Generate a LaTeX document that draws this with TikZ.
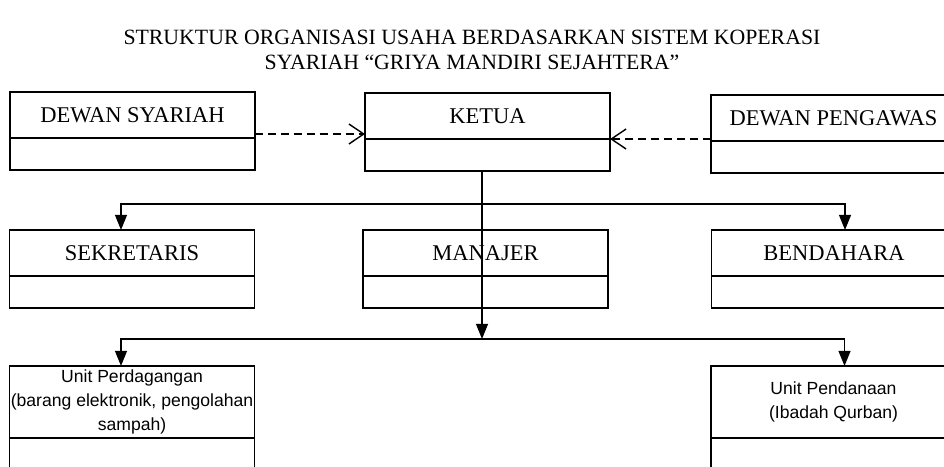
\documentclass[tikz,border=0pt]{standalone}
\usepackage{fontspec}
\setmainfont{Liberation Serif}
\newfontfamily\unitfont{Liberation Sans}
\usetikzlibrary{positioning,arrows.meta}

\begin{document}
\begin{tikzpicture}[x=0.025cm, y=-0.025cm,
    kotak/.style={draw, line width=1pt, minimum width=6.125cm, minimum height=1.15cm,
      inner sep=0pt, outer sep=0pt, font=\fontsize{16}{19}\selectfont},
    kotakbawah/.style={draw, line width=1pt, minimum width=6.125cm, minimum height=0.8cm,
      inner sep=0pt, outer sep=0pt},
    kotakunit/.style={kotak, minimum height=1.8cm, align=center,
      font=\unitfont\fontsize{12.5}{17}\selectfont},
    panah/.style={line width=1pt, -{Triangle[length=0.38cm, width=0.3cm]}},
    putus/.style={line width=1pt, dash pattern=on 5.7pt off 3.5pt,
      -{Straight Barb[length=0.37cm, width=0.5cm]}}]
    \def \geser {0.275cm} % arrows stand a little off the box centres
    \useasboundingbox (0,0) rectangle (944,466);
    \clip (0,0) rectangle (944,466);

    % title
    \node[font=\fontsize{15.5}{18}\selectfont] (judul1) at (472,37)
      {STRUKTUR ORGANISASI USAHA BERDASARKAN SISTEM KOPERASI};
    \node[font=\fontsize{15.5}{18}\selectfont] (judul2) at (472,62)
      {SYARIAH “GRIYA MANDIRI SEJAHTERA”};

    % top row
    \node[kotak] (syariah) at (132.5,115) {DEWAN SYARIAH};
    \node[kotakbawah, below=0pt of syariah] (syariahb) {};
    \node[kotak] (ketua) at (487.5,116) {KETUA};
    \node[kotakbawah, below=0pt of ketua] (ketuab) {};
    \node[kotak] (pengawas) at (833.5,118) {DEWAN PENGAWAS};
    \node[kotakbawah, below=0pt of pengawas] (pengawasb) {};

    % second row
    \node[kotak] (sekretaris) at (132,253) {SEKRETARIS};
    \node[kotakbawah, below=0pt of sekretaris] (sekretarisb) {};
    \node[kotak] (manajer) at (485.5,253) {MANAJER};
    \node[kotakbawah, below=0pt of manajer] (manajerb) {};
    \node[kotak] (bendahara) at (834,253) {BENDAHARA};
    \node[kotakbawah, below=0pt of bendahara] (bendaharab) {};

    % units
    \node[kotakunit] (dagang) at (132,402)
      {Unit Perdagangan\\(barang elektronik, pengolahan\\sampah)};
    \node[kotakbawah, minimum height=1.2cm, below=0pt of dagang] (dagangb) {};
    \node[kotakunit] (dana) at (833.5,402) {Unit Pendanaan\\(Ibadah Qurban)};
    \node[kotakbawah, minimum height=1.2cm, below=0pt of dana] (danab) {};

    \coordinate (cabang1) at (482,204);
    \coordinate (cabang2) at (482,339);

    \draw[putus] ([yshift=1mm]syariah.south east) -- ([yshift=1mm]syariah.south east -| ketua.west);
    \draw[putus] ([yshift=0.5mm]pengawas.south west) -- ([yshift=0.5mm]pengawas.south west -| ketua.east);

    \draw[panah] (ketuab.south -| cabang1) -- (cabang2);
    \draw[panah] (cabang1) -| ([xshift=-\geser]sekretaris.north);
    \draw[panah] (cabang1) -| ([xshift=\geser]bendahara.north);
    \draw[panah] (cabang2) -| ([xshift=-\geser]dagang.north);
    \draw[panah] (cabang2) -| ([xshift=\geser]dana.north);
\end{tikzpicture}
\end{document}
